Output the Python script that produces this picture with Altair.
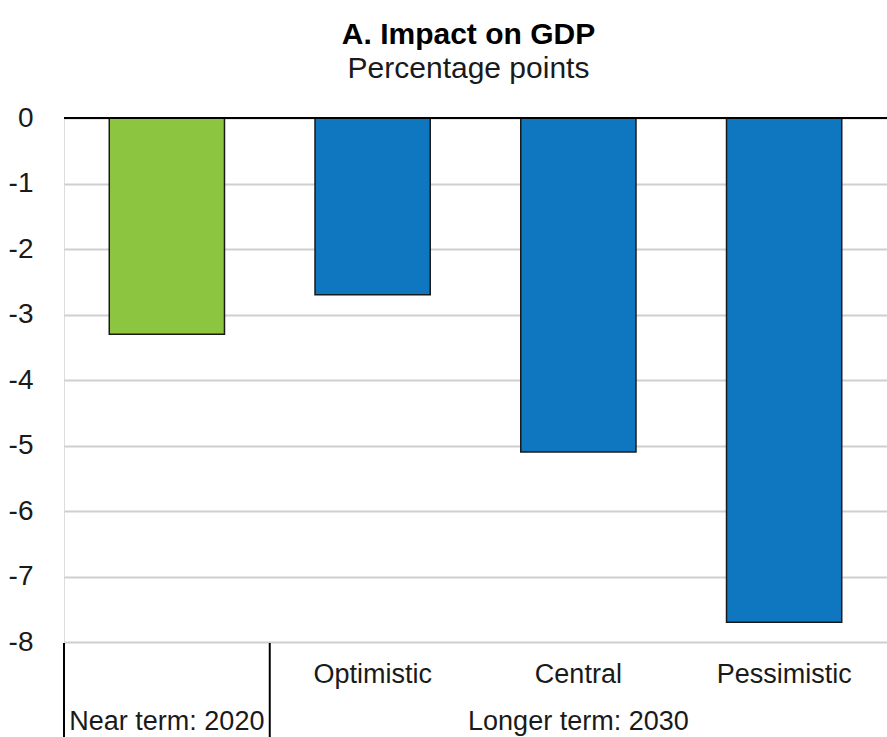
import altair as alt
import pandas as pd

# Scenario categories and GDP impact (percentage points)
categories = ["Near term", "Optimistic", "Central", "Pessimistic"]
values = [-3.3, -2.7, -5.1, -7.7]
horizon = ["near", "long", "long", "long"]

# Group labels shown under the axis, anchored on a category
group_labels = ["Near term: 2020", "Longer term: 2030"]
group_anchor = ["Near term", "Central"]

# Categories whose left edge carries a vertical separator
separator_at = ["Near term", "Optimistic"]

y_ticks = [0, -1, -2, -3, -4, -5, -6, -7, -8]

FONT = "Liberation Sans, Arial, sans-serif"
GREEN = "#8CC540"
BLUE = "#0E77C0"
INK = "#1a1a1a"

W, H = 823, 524

bars_df = pd.DataFrame({"cat": categories, "value": values, "horizon": horizon})
groups_df = pd.DataFrame({"cat": group_anchor, "label": group_labels})
sep_df = pd.DataFrame({"cat": separator_at})
zero_df = pd.DataFrame({"value": [0]})

x_scale = alt.Scale(domain=categories, paddingInner=0, paddingOuter=0)
x_axis = alt.Axis(
    title=None,
    labelExpr="datum.value == 'Near term' ? '' : datum.label",
    labelFont=FONT,
    labelFontSize=27,
    labelColor=INK,
    labelBaseline="alphabetic",
    labelPadding=40,
    labelAngle=0,
    domain=False,
    ticks=False,
    grid=False,
)
y_scale = alt.Scale(domain=[-8, 0], nice=False)
y_axis = alt.Axis(
    title=None,
    values=y_ticks,
    labelExpr="'' + datum.value",
    labelFont=FONT,
    labelFontSize=28,
    labelColor=INK,
    labelPadding=31,
    ticks=False,
    domain=False,
    domainOpacity=0,
    grid=True,
    gridColor="#cfcfcf",
    gridWidth=2,
)


def xenc(**kw):
    return alt.X("cat:N", scale=x_scale, axis=x_axis, sort=categories, **kw)


def yenc():
    return alt.Y("value:Q", scale=y_scale, axis=y_axis)


bars = alt.Chart(bars_df).mark_bar(
    width=alt.RelativeBandSize(0.56), stroke=INK, strokeWidth=1.5
).encode(
    x=xenc(),
    y=yenc(),
    color=alt.Color(
        "horizon:N",
        scale=alt.Scale(domain=["near", "long"], range=[GREEN, BLUE]),
        legend=None,
    ),
)

zero_line = alt.Chart(zero_df).mark_rule(color="black", strokeWidth=2).encode(
    y=yenc()
)

# Short vertical dividers under the plot, at the left edge of their category
separators = alt.Chart(sep_df).mark_rule(color="black", strokeWidth=2).encode(
    x=xenc(bandPosition=0),
    y=alt.value(H + 1),
    y2=alt.value(H + 95),
)

group_text = alt.Chart(groups_df).mark_text(
    font=FONT, fontSize=27, color=INK, align="center", baseline="alphabetic"
).encode(
    x=xenc(),
    y=alt.value(H + 88),
    text="label:N",
)

chart = (
    alt.layer(bars, zero_line, separators, group_text)
    .properties(
        width=W,
        height=H,
        autosize=alt.AutoSizeParams(type="none"),
        padding={"left": 64, "top": 118, "right": 0, "bottom": 95},
        title=alt.TitleParams(
            text="A. Impact on GDP",
            subtitle="Percentage points",
            font=FONT,
            fontSize=30,
            fontWeight="bold",
            color="black",
            subtitleFont=FONT,
            subtitleFontSize=30,
            subtitleColor=INK,
            subtitlePadding=4,
            anchor="middle",
            dx=-7,
            offset=20,
        ),
    )
    .configure_view(stroke="transparent", strokeOpacity=0, strokeWidth=0)
    .configure_axis(domain=False, domainOpacity=0)
    .configure_axisX(grid=False)
    .configure(background="white")
)

chart.save("out.html", embed_options={"renderer": "svg", "actions": False})
